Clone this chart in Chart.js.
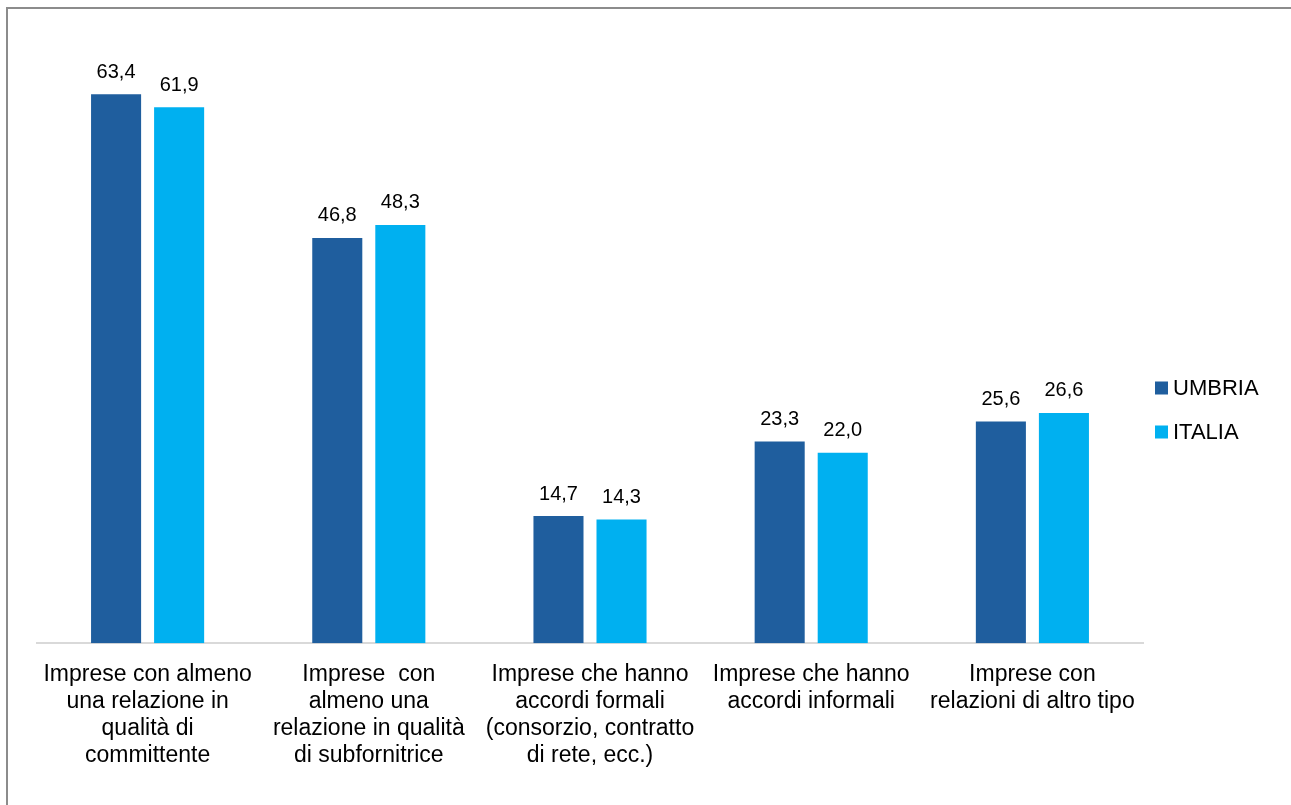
<!DOCTYPE html>
<html>
<head>
<meta charset="utf-8">
<script src="https://cdn.jsdelivr.net/npm/chart.js@4/dist/chart.umd.min.js"></script>
<style>
    html, body { margin: 0; padding: 0; background: #fff; }
    #wrap { width: 1291px; height: 805px; position: relative; }
</style>
</head>
<body>
<div id="wrap"><canvas id="myChart"></canvas></div>
<script>
const categories = [
    ["Imprese con almeno", "una relazione in", "qualità di", "committente"],
    ["Imprese  con", "almeno una", "relazione in qualità", "di subfornitrice"],
    ["Imprese che hanno", "accordi formali", "(consorzio, contratto", "di rete, ecc.)"],
    ["Imprese che hanno", "accordi informali"],
    ["Imprese con", "relazioni di altro tipo"]
];
const umbriaValues = [63.4, 46.8, 14.7, 23.3, 25.6];
const italiaValues = [61.9, 48.3, 14.3, 22.0, 26.6];
const seriesNames = ["UMBRIA", "ITALIA"];

const FONT = "Arial, 'Liberation Sans', sans-serif";

// frame, value labels and legend
const extras = {
    id: "extras",
    beforeDraw(chart) {
        const ctx = chart.ctx;
        ctx.save();
        ctx.strokeStyle = "#8c8c8c";
        ctx.lineWidth = 2;
        ctx.beginPath();
        ctx.moveTo(7, 805);
        ctx.lineTo(7, 8);
        ctx.lineTo(1291, 8);
        ctx.stroke();
        ctx.restore();
    },
    afterDatasetsDraw(chart) {
        const ctx = chart.ctx;
        ctx.save();
        ctx.fillStyle = "#000";
        ctx.font = "20px " + FONT;
        ctx.textAlign = "center";
        ctx.textBaseline = "bottom";
        chart.data.datasets.forEach(function (ds, i) {
            chart.getDatasetMeta(i).data.forEach(function (bar, j) {
                let txt = ds.data[j].toFixed(1).replace(".", ",");
                ctx.fillText(txt, bar.x, bar.y - 12);
            });
        });

        // legend
        ctx.font = "22px " + FONT;
        ctx.textAlign = "left";
        ctx.textBaseline = "middle";
        chart.data.datasets.forEach(function (ds, i) {
            let y = 388 + i * 44;
            ctx.fillStyle = ds.backgroundColor;
            ctx.fillRect(1155, y - 6.5, 13, 13);
            ctx.fillStyle = "#000";
            ctx.fillText(ds.label, 1173, y + 1);
        });
        ctx.restore();
    }
};

new Chart(document.getElementById("myChart"), {
    type: "bar",
    data: {
        labels: categories,
        datasets: [
            {
                label: seriesNames[0],
                data: umbriaValues,
                backgroundColor: "#1F5E9E",
            },
            {
                label: seriesNames[1],
                data: italiaValues,
                backgroundColor: "#00B0F0",
            },
        ],
    },
    options: {
        responsive: true,
        maintainAspectRatio: false,
        animation: false,
        categoryPercentage: 0.57,
        barPercentage: 0.794,
        layout: {
            padding: { left: 37, right: 148, top: 37, bottom: 26 },
        },
        plugins: {
            legend: { display: false },
            tooltip: { enabled: false },
        },
        scales: {
            y: {
                display: false,
                min: 0,
                max: 70,
            },
            x: {
                grid: { display: false },
                border: { color: "#D9D9D9", width: 2 },
                ticks: {
                    color: "#000",
                    maxRotation: 0,
                    autoSkip: false,
                    padding: 10,
                    font: { family: FONT, size: 23, lineHeight: 1.17 },
                },
            },
        },
    },
    plugins: [extras],
});
</script>
</body>
</html>
